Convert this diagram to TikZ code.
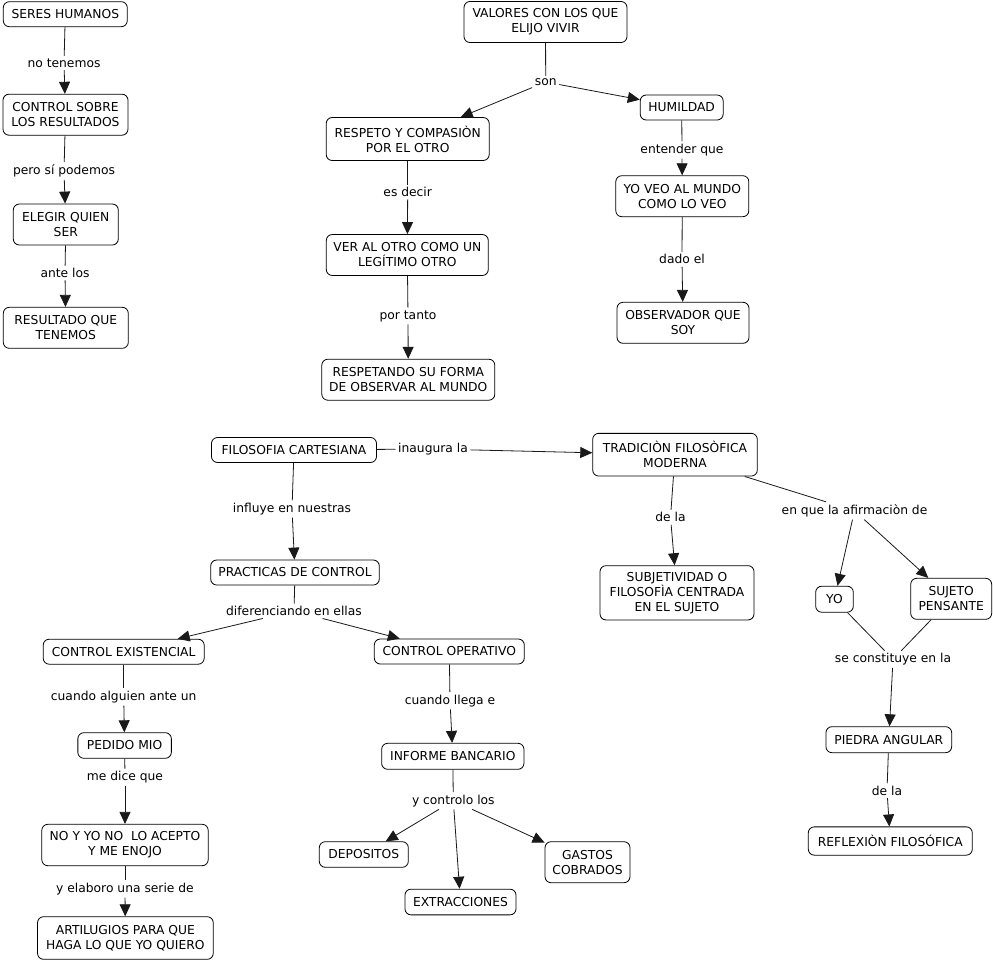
\documentclass[tikz,border=0pt]{standalone}
\usepackage{fontspec}
\setmainfont{DejaVu Sans}
\usetikzlibrary{arrows.meta}
\begin{document}
\begin{tikzpicture}[x=1pt,y=-1pt,
  every node/.style={font=\fontsize{12.3}{15}\selectfont},
  concept/.style={draw=black,line width=0.8pt,rounded corners=6pt,fill=white,align=center,inner sep=0pt},
  sz/.style 2 args={minimum width=#1,minimum height=#2},
  lab/.style={inner sep=2.5pt,align=center},
  link/.style={draw=black!90,line width=0.8pt},
  arr/.style={link,-{Triangle[length=12pt,width=11pt]}}
]
\path[use as bounding box,fill=white] (0,0) rectangle (993,961);

% --- left column
\node[concept,sz={124}{25}] (seres) at (65.3,14.2) {SERES HUMANOS};
\node[concept,sz={125}{41}] (control) at (65.5,114.7) {CONTROL SOBRE\\LOS RESULTADOS};
\node[concept,sz={105}{41}] (elegir) at (65.8,224.5) {ELEGIR QUIEN\\SER};
\node[concept,sz={125}{41}] (resultado) at (65.8,327.8) {RESULTADO QUE\\TENEMOS};
\node[lab] (l1) at (64,63) {no tenemos};
\node[lab] (l2) at (64,171) {pero sí podemos};
\node[lab] (l3) at (65,273) {ante los};
\draw[link] (seres) -- (l1); \draw[arr] (l1) -- (control);
\draw[link] (control) -- (l2); \draw[arr] (l2) -- (elegir);
\draw[link] (elegir) -- (l3); \draw[arr] (l3) -- (resultado);

% --- valores
\node[concept,sz={163}{41}] (valores) at (545.5,22) {VALORES CON LOS QUE\\ELIJO VIVIR};
\node[concept,sz={163}{43}] (respeto) at (407.7,139) {RESPETO Y COMPASIÒN\\POR EL OTRO};
\node[concept,sz={83}{25}] (humildad) at (681.7,107.5) {HUMILDAD};
\node[concept,sz={133}{41}] (yoveo) at (682.3,196.2) {YO VEO AL MUNDO\\COMO LO VEO};
\node[concept,sz={132}{41}] (observador) at (683,322.8) {OBSERVADOR QUE\\SOY};
\node[concept,sz={162}{41}] (ver) at (407.3,255) {VER AL OTRO COMO UN\\LEGÍTIMO OTRO};
\node[concept,sz={173}{41}] (respetando) at (408.3,379.7) {RESPETANDO SU FORMA\\DE OBSERVAR AL MUNDO};
\node[lab] (lson) at (545.7,82) {son};
\node[lab] (lesdecir) at (407.7,192) {es decir};
\node[lab] (lportanto) at (408,316) {por tanto};
\node[lab] (lentender) at (682,150) {entender que};
\node[lab] (ldado) at (682,259.3) {dado el};
\draw[link] (valores) -- (lson);
\draw[arr] (lson) -- (respeto);
\draw[arr] (lson) -- (humildad);
\draw[link] (respeto) -- (lesdecir); \draw[arr] (lesdecir) -- (ver);
\draw[link] (ver) -- (lportanto); \draw[arr] (lportanto) -- (respetando);
\draw[link] (humildad) -- (lentender); \draw[arr] (lentender) -- (yoveo);
\draw[link] (yoveo) -- (ldado); \draw[arr] (ldado) -- (observador);

% --- filosofia
\node[concept,sz={165}{25}] (filosofia) at (294,450) {FILOSOFIA CARTESIANA};
\node[concept,sz={164.6}{42.7}] (tradicion) at (675,454.7) {TRADICIÒN FILOSÒFICA\\MODERNA};
\node[concept,sz={168.6}{25}] (practicas) at (295,572.5) {PRACTICAS DE CONTROL};
\node[concept,sz={161}{25}] (cexist) at (123.7,651.7) {CONTROL EXISTENCIAL};
\node[concept,sz={150}{25}] (coper) at (449.3,651.5) {CONTROL OPERATIVO};
\node[concept,sz={93.5}{25.6}] (pedido) at (124.6,745.5) {PEDIDO MIO};
\node[concept,sz={166.4}{41.4}] (noyo) at (125,845) {NO Y YO NO\ \ LO ACEPTO\\Y ME ENOJO};
\node[concept,sz={175.7}{42.6}] (artilugios) at (125.4,938) {ARTILUGIOS PARA QUE\\HAGA LO QUE YO QUIERO};
\node[concept,sz={142.3}{26}] (informe) at (452.8,756.3) {INFORME BANCARIO};
\node[concept,sz={89}{25.6}] (depositos) at (363.8,854.5) {DEPOSITOS};
\node[concept,sz={111}{25.7}] (extracciones) at (460.5,902) {EXTRACCIONES};
\node[concept,sz={85}{41}] (gastos) at (587.5,862.2) {GASTOS\\COBRADOS};
\node[concept,sz={154}{54.3}] (subjetividad) at (677,592.8) {SUBJETIVIDAD O\\FILOSOFÌA CENTRADA\\EN EL SUJETO};
\node[concept,sz={37.6}{26}] (yo) at (834.5,599.2) {YO};
\node[concept,sz={81}{41}] (sujeto) at (951.2,598.8) {SUJETO\\PENSANTE};
\node[concept,sz={125.7}{26}] (piedra) at (888.8,739.7) {PIEDRA ANGULAR};
\node[concept,sz={164}{28.3}] (reflexion) at (890.3,841) {REFLEXIÒN FILOSÓFICA};

\node[lab] (linaugura) at (433,449) {inaugura la};
\node[lab] (linfluye) at (292,509) {influye en nuestras};
\node[lab] (ldiferenciando) at (294,611) {diferenciando en ellas};
\node[lab] (ldela1) at (670.5,517.3) {de la};
\node[lab] (lenque) at (854.5,510.7) {en que la afirmaciòn de};
\node[lab] (lcuando) at (123.7,697) {cuando alguien ante un};
\node[lab] (lmedice) at (125,777.3) {me dice que};
\node[lab] (lelaboro) at (125,889) {y elaboro una serie de};
\node[lab] (lllega) at (450,700.7) {cuando llega e};
\node[lab] (lcontrolo) at (453.3,800.7) {y controlo los};
\node[lab] (lconstituye) at (893,659.3) {se constituye en la};
\node[lab] (ldela2) at (887,790.7) {de la};

\draw[link] (filosofia) -- (linaugura); \draw[arr] (linaugura) -- (tradicion);
\draw[link] (filosofia) -- (linfluye); \draw[arr] (linfluye) -- (practicas);
\draw[link] (practicas) -- (ldiferenciando);
\draw[arr] (ldiferenciando) -- (cexist);
\draw[arr] (ldiferenciando) -- (coper);
\draw[link] (cexist) -- (lcuando); \draw[arr] (lcuando) -- (pedido);
\draw[link] (pedido) -- (lmedice); \draw[arr] (lmedice) -- (noyo);
\draw[link] (noyo) -- (lelaboro); \draw[arr] (lelaboro) -- (artilugios);
\draw[link] (coper) -- (lllega); \draw[arr] (lllega) -- (informe);
\draw[link] (informe) -- (lcontrolo);
\draw[arr] (lcontrolo) -- (depositos);
\draw[arr] (lcontrolo) -- (extracciones);
\draw[arr] (lcontrolo) -- (gastos);
\draw[link] (tradicion) -- (ldela1); \draw[arr] (ldela1) -- (subjetividad);
\draw[link] (tradicion) -- (lenque);
\draw[arr] (lenque) -- (yo);
\draw[arr] (lenque) -- (sujeto);
\draw[link] (yo) -- (lconstituye);
\draw[link] (sujeto) -- (lconstituye);
\draw[arr] (lconstituye) -- (piedra);
\draw[link] (piedra) -- (ldela2); \draw[arr] (ldela2) -- (reflexion);
\end{tikzpicture}
\end{document}
